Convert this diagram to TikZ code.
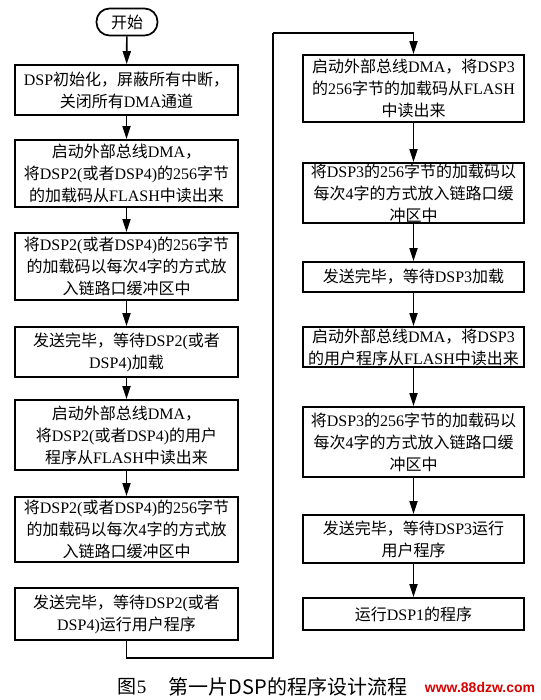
\documentclass[tikz,border=0pt]{standalone}
\usepackage{fontspec}
\setmainfont{Liberation Serif}
\newfontfamily\cjkfont{Noto Sans CJK SC}
\newfontfamily\wmfont{Liberation Sans}
\newcommand{\zh}[1]{{\cjkfont #1}}
\usetikzlibrary{arrows.meta}

\begin{document}
\begin{tikzpicture}[x=1pt, y=-1pt, line width=1.7pt, >={Triangle[length=13pt,width=8pt]},
  proc/.style={draw, rectangle, align=center, inner sep=0pt, font=\fontsize{16}{22}\selectfont},
  leftbox/.style={proc, minimum width=223pt},
  rightbox/.style={proc, minimum width=221pt},
  startnode/.style={draw, rounded corners=13pt, minimum width=61pt, minimum height=27pt, inner sep=0pt, font=\fontsize{16}{18}\selectfont},
  flow/.style={->}]
  \useasboundingbox (0,0) rectangle (540,700);
  % left column: DSP2 / DSP4
  \node[startnode] (start) at (127,22) {\zh{开始}};
  \node[leftbox, minimum height=50pt] (init) at (126.5,90) {DSP\zh{初始化，屏蔽所有中断，}\\\zh{关闭所有}DMA\zh{通道}};
  \node[leftbox, minimum height=67pt] (readA) at (126.5,173.5) {\zh{启动外部总线}DMA\zh{，}\\\zh{将}DSP2(\zh{或者}DSP4)\zh{的}256\zh{字节}\\\zh{的加载码从}FLASH\zh{中读出来}};
  \node[leftbox, minimum height=67pt] (bufA) at (126.5,266.5) {\zh{将}DSP2(\zh{或者}DSP4)\zh{的}256\zh{字节}\\\zh{的加载码以每次}4\zh{字的方式放}\\\zh{入链路口缓冲区中}};
  \node[leftbox, minimum height=50pt] (sendA) at (126.5,352) {\zh{发送完毕，等待}DSP2(\zh{或者}\\DSP4)\zh{加载}};
  \node[leftbox, minimum height=70pt] (userA) at (126.5,435) {\zh{启动外部总线}DMA\zh{，}\\\zh{将}DSP2(\zh{或者}DSP4)\zh{的用户}\\\zh{程序从}FLASH\zh{中读出来}};
  \node[leftbox, minimum height=65pt] (bufB) at (126.5,529.5) {\zh{将}DSP2(\zh{或者}DSP4)\zh{的}256\zh{字节}\\\zh{的加载码以每次}4\zh{字的方式放}\\\zh{入链路口缓冲区中}};
  \node[leftbox, minimum height=52pt] (runA) at (126.5,614) {\zh{发送完毕，等待}DSP2(\zh{或者}\\DSP4)\zh{运行用户程序}};
  % right column: DSP3
  \node[rightbox, minimum height=67pt] (readC) at (413.5,88.5) {\zh{启动外部总线}DMA\zh{，将}DSP3\\\zh{的}256\zh{字节的加载码从}FLASH\\\zh{中读出来}};
  \node[rightbox, minimum height=60pt] (bufC) at (413.5,193) {\zh{将}DSP3\zh{的}256\zh{字节的加载码以}\\\zh{每次}4\zh{字的方式放入链路口缓}\\\zh{冲区中}};
  \node[rightbox, minimum height=30pt] (sendC) at (413.5,277) {\zh{发送完毕，等待}DSP3\zh{加载}};
  \node[rightbox, minimum height=40pt] (userC) at (413.5,347) {\zh{启动外部总线}DMA\zh{，将}DSP3\\\zh{的用户程序从}FLASH\zh{中读出来}};
  \node[rightbox, minimum height=70pt] (bufD) at (413.5,442) {\zh{将}DSP3\zh{的}256\zh{字节的加载码以}\\\zh{每次}4\zh{字的方式放入链路口缓}\\\zh{冲区中}};
  \node[rightbox, minimum height=48pt] (runC) at (413.5,539) {\zh{发送完毕，等待}DSP3\zh{运行}\\\zh{用户程序}};
  \node[rightbox, minimum height=32pt] (main) at (413.5,614) {\zh{运行}DSP1\zh{的程序}};
  % caption
  \node[font=\fontsize{19}{21}\selectfont] (fig) at (132,687) {\zh{图}5};
  \node[font=\fontsize{20}{22}\selectfont\cjkfont] (title) at (288,687) {\zh{第一片}DSP\zh{的程序设计流程}};
  \node[font=\fontsize{14}{16}\selectfont\wmfont\bfseries, text=red!85!black] (site) at (480,687) {www.88dzw.com};
  \coordinate (turnb) at (273,658);
  \coordinate (turnt) at (273,33);
  % connectors
  \draw[flow] (start) -- (init);
  \draw[flow] (init) -- (readA);
  \draw[flow] (readA) -- (bufA);
  \draw[flow] (bufA) -- (sendA);
  \draw[flow] (sendA) -- (userA);
  \draw[flow] (userA) -- (bufB);
  \draw (runA.south) |- (turnb) -- (turnt);
  \draw[flow] (turnt) -| (readC.north);
  \draw[flow] (readC) -- (bufC);
  \draw[flow] (bufC) -- (sendC);
  \draw[flow] (sendC) -- (userC);
  \draw[flow] (userC) -- (bufD);
  \draw[flow] (bufD) -- (runC);
  \draw[flow] (runC) -- (main);
\end{tikzpicture}
\end{document}
